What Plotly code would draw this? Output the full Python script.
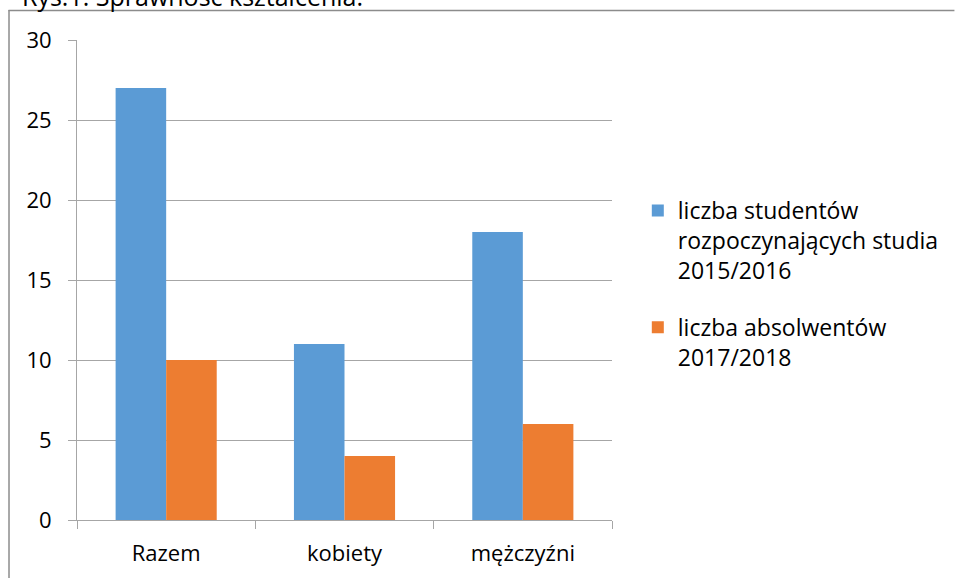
import plotly.graph_objects as go

categories = ["Razem", "kobiety", "mężczyźni"]
students_2015 = [27, 11, 18]
graduates_2017 = [10, 4, 6]
series_names = ["liczba studentów<br>rozpoczynających studia<br>2015/2016",
                "liczba absolwentów<br>2017/2018"]
title_text = "Rys.1. Sprawność kształcenia."
y_ticks = [0, 5, 10, 15, 20, 25, 30]

W, H = 956, 578
L, R, T, B = 77, 340, 40, 58
PW, PH = W - L - R, H - T - B

def px_x(x):
    return (x - L) / PW

def px_y(y):
    return (H - B - y) / PH

FONT = "Open Sans"
GRID = "#A6A6A6"

fig = go.Figure()
fig.add_trace(go.Bar(x=categories, y=students_2015, name=series_names[0],
                     marker=dict(color="#5B9BD5", line=dict(width=0)),
                     legendgroup="a"))
fig.add_trace(go.Bar(x=categories, y=graduates_2017, name=series_names[1],
                     marker=dict(color="#ED7D31", line=dict(width=0)),
                     legendgroup="b"))

fig.update_layout(
    width=W, height=H,
    margin=dict(l=L, r=R, t=T, b=B),
    paper_bgcolor="white", plot_bgcolor="white",
    barmode="group", bargap=0.433, bargroupgap=0,
    font=dict(family=FONT, size=22, color="#000000"),
    showlegend=True,
    legend=dict(x=px_x(642), y=px_y(189), xanchor="left", yanchor="top",
                font=dict(family=FONT, size=23, color="#000000"),
                valign="top", tracegroupgap=24, bgcolor="rgba(0,0,0,0)"),
    xaxis=dict(type="category", showline=True, linecolor=GRID, linewidth=1,
               ticks="outside", tickson="boundaries", ticklen=8,
               tickcolor=GRID, showgrid=False, zeroline=False,
               ticklabelstandoff=14,
               tickfont=dict(family=FONT, size=22, color="#000000")),
    yaxis=dict(range=[0, 30], tickvals=y_ticks, showline=True, linecolor=GRID,
               linewidth=1, ticks="outside", ticklen=8, tickcolor=GRID,
               showgrid=True, gridcolor=GRID, gridwidth=1, zeroline=False,
               ticklabelstandoff=12,
               tickfont=dict(family=FONT, size=22, color="#000000")),
    shapes=[
        dict(type="line", xref="paper", yref="paper",
             x0=px_x(8.5), x1=px_x(8.5), y0=px_y(10), y1=px_y(H + 5),
             line=dict(color="#8C8C8C", width=1.5)),
        dict(type="line", xref="paper", yref="paper",
             x0=px_x(8), x1=px_x(W + 5), y0=px_y(10.5), y1=px_y(10.5),
             line=dict(color="#8C8C8C", width=1.5)),
    ],
    annotations=[
        dict(text=title_text, xref="paper", yref="paper",
             x=px_x(367), y=px_y(15), xanchor="right", yanchor="bottom",
             showarrow=False, font=dict(family=FONT, size=25, color="#000000")),
    ],
)

fig.write_html("out.html",
               config={"displayModeBar": False},
               post_script="document.body.style.margin='0';"
                           "document.body.style.overflow='hidden';")
